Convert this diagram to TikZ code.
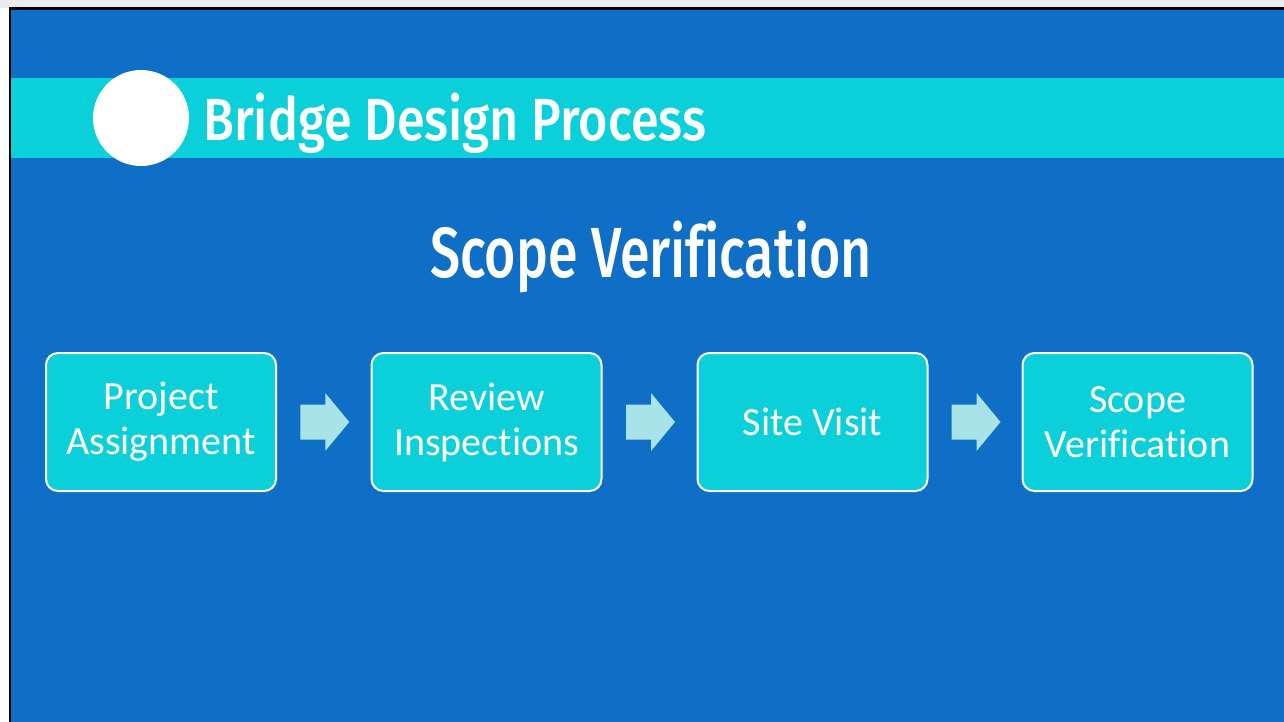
\documentclass[tikz,border=0pt]{standalone}
\usepackage{fontspec}
\setmainfont{Carlito}[Ligatures=NoCommon]
\newfontfamily\titlefont{Fira Sans Medium}[Ligatures=NoCommon]
\usetikzlibrary{calc}
\definecolor{bgblue}{HTML}{0F6FC6}
\definecolor{cyanc}{HTML}{0BD0D9}
\definecolor{arrowc}{HTML}{A9E3EA}
\begin{document}
\begin{tikzpicture}[x=1pt,y=-1pt,
  stepbox/.style={draw=white, line width=2pt, fill=cyanc, rounded corners=12pt,
    minimum width=230pt, minimum height=138pt, text=white,
    font=\fontsize{40}{45}\selectfont, align=center, inner sep=0pt},
  flowarrow/.style={fill=arrowc, draw=none}]
\useasboundingbox (0,0) rectangle (1284,722);
\fill[white] (0,0) rectangle (1284,722);
\fill[gray!15] (0,0) rectangle (1284,8);
\fill[black] (9,7) rectangle (1284,722);
\fill[bgblue] (11,10) rectangle (1284,722);
\fill[cyanc] (11,78) rectangle (1284,158);
\node[circle, fill=white, minimum size=96pt, inner sep=0pt] (dot) at (141,118) {};
\node[anchor=base west, inner sep=0pt, text=white] (title) at (203,141)
  {\resizebox{503pt}{\height}{\titlefont\fontsize{59.5}{60}\selectfont Bridge Design Process}};
\node[anchor=base, inner sep=0pt, text=white] (subtitle) at (651,277)
  {\resizebox{442pt}{\height}{\titlefont\fontsize{71}{72}\selectfont Scope Verification}};
\node[stepbox] (b1) at (161,422) {Project\\Assignment};
\node[stepbox] (b2) at (486.5,422) {Review\\Inspections};
\node[stepbox] (b3) at (812.5,422) {Site Visit};
\node[stepbox] (b4) at (1137.5,422) {Scope\\Verification};
\foreach \a/\b/\n in {b1/b2/m1, b2/b3/m2, b3/b4/m3}{
  \coordinate (\n) at ($(\a.east)!0.5!(\b.west)+(1,0)$);
  \fill[flowarrow] ($(\n)+(-24.5,-17.5)$) -- ($(\n)+(0.5,-17.5)$) -- ($(\n)+(0.5,-29)$)
    -- ($(\n)+(24.5,0)$) -- ($(\n)+(0.5,29)$) -- ($(\n)+(0.5,17.5)$)
    -- ($(\n)+(-24.5,17.5)$) -- cycle;
}
\end{tikzpicture}
\end{document}
